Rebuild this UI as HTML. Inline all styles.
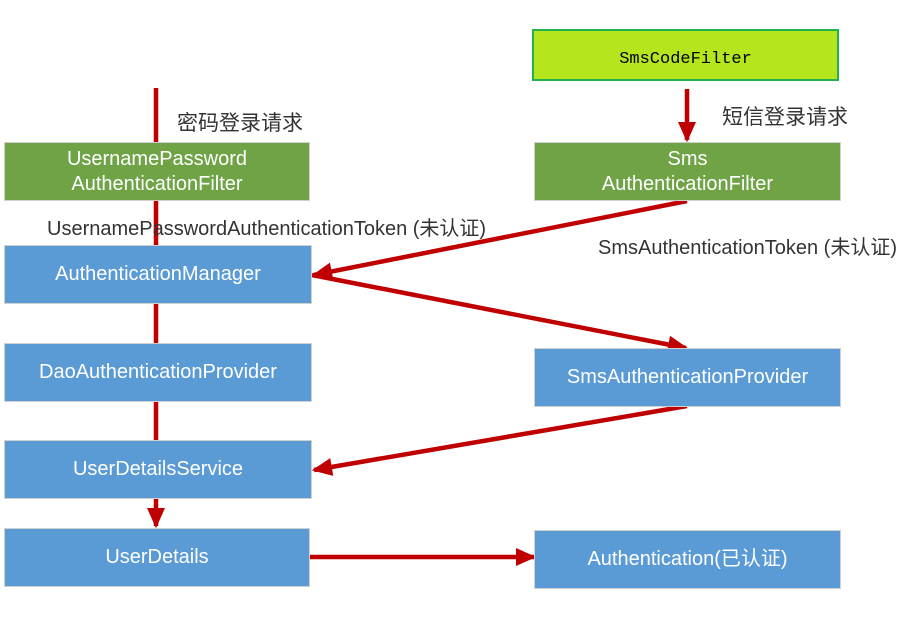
<!DOCTYPE html>
<html><head><meta charset="utf-8"><style>
body{margin:0;width:918px;height:623px;background:#fff;position:relative;overflow:hidden;font-family:"Liberation Sans","Noto Sans CJK SC",sans-serif}
.b{position:absolute;color:#fff;font-size:20px;display:flex;align-items:center;justify-content:center;text-align:center;line-height:25px;box-sizing:border-box;border:1px solid #d0d0d0}
.g{background:#6fa346}.u{background:#5b9bd5}
.t{position:absolute;font-size:20px;color:#333;white-space:nowrap}
</style></head><body>
<svg width="918" height="623" style="position:absolute;left:0;top:0">
<defs><marker id="a" markerWidth="4.5" markerHeight="4" refX="4" refY="2" orient="auto" markerUnits="strokeWidth" overflow="visible"><path d="M0,0 L4.5,2 L0,4 z" fill="#c00000"/></marker></defs>
<g stroke="#c00000" stroke-width="4.5" fill="none">
<line x1="156" y1="88" x2="156" y2="526" marker-end="url(#a)"/>
<line x1="687" y1="89" x2="687" y2="140" marker-end="url(#a)"/>
<line x1="687" y1="201" x2="314" y2="275" marker-end="url(#a)"/>
<line x1="312" y1="275" x2="686" y2="348" marker-end="url(#a)"/>
<line x1="687" y1="406" x2="314" y2="470" marker-end="url(#a)"/>
<line x1="310" y1="557" x2="534" y2="557" marker-end="url(#a)"/>
</g></svg>
<div class="b" style="left:532px;top:29px;width:307px;height:52px;background:#b5e61d;border:2px solid #22b14c;color:#000;font-family:'Liberation Mono',monospace;font-size:17px;padding-top:9px">SmsCodeFilter</div>
<div class="t" style="left:177px;top:107px;font-size:21px">密码登录请求</div>
<div class="t" style="left:722px;top:101px;font-size:21px">短信登录请求</div>
<div class="b g" style="left:4px;top:142px;width:306px;height:59px">UsernamePassword<br>AuthenticationFilter</div>
<div class="b g" style="left:534px;top:142px;width:307px;height:59px">Sms<br>AuthenticationFilter</div>
<div class="t" style="left:47px;top:212px">UsernamePasswordAuthenticationToken (未认证)</div>
<div class="t" style="left:598px;top:231px">SmsAuthenticationToken (未认证)</div>
<div class="b u" style="left:4px;top:245px;width:308px;height:59px">AuthenticationManager</div>
<div class="b u" style="left:4px;top:343px;width:308px;height:59px">DaoAuthenticationProvider</div>
<div class="b u" style="left:534px;top:348px;width:307px;height:59px">SmsAuthenticationProvider</div>
<div class="b u" style="left:4px;top:440px;width:308px;height:59px">UserDetailsService</div>
<div class="b u" style="left:4px;top:528px;width:306px;height:59px">UserDetails</div>
<div class="b u" style="left:534px;top:530px;width:307px;height:59px">Authentication(已认证)</div>
</body></html>
